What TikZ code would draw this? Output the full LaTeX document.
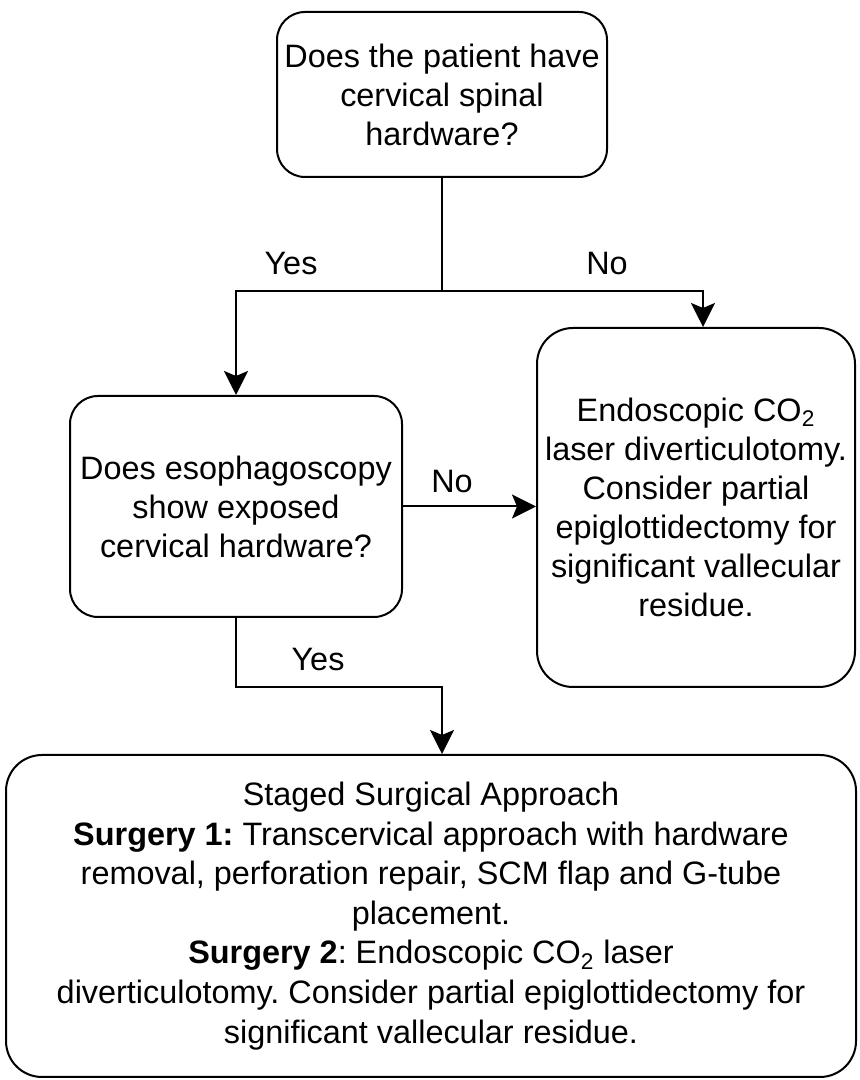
\documentclass[tikz,border=0pt]{standalone}
\usepackage{fontspec}
\setmainfont{Liberation Sans}
\usetikzlibrary{positioning,arrows.meta}
\frenchspacing

\begin{document}
\begin{tikzpicture}[x=0.5pt, y=0.5pt,
    box/.style={draw, line width=1pt, rounded corners=14pt, align=center, inner sep=0pt,
      font=\fontsize{16.2}{19.5}\selectfont},
    lbl/.style={font=\fontsize{16.2}{19.5}\selectfont},
    arr/.style={line width=1pt, -{Stealth[length=12pt, width=12pt, inset=2.5pt]}}]
        \useasboundingbox (0,0) rectangle (859,1080);
        % boxes
        \node[box, minimum width=165pt, minimum height=82.5pt] (hw) at (442,985.5)
          {Does the patient have\\cervical spinal\\hardware?};
        \node[box, minimum width=166pt, minimum height=110.5pt] (scope) at (236,573.5)
          {Does esophagoscopy\\show exposed\\cervical hardware?};
        \node[box, rounded corners=18pt, minimum width=159pt, minimum height=179.5pt] (laser) at (696,572.5)
          {Endoscopic CO\textsubscript{2}\\laser diverticulotomy.\\Consider partial\\epiglottidectomy for\\significant vallecular\\residue.};
        \node[box, rounded corners=18pt, minimum width=425pt, minimum height=161pt,
              font=\fontsize{16.2}{19.8}\selectfont] (staged) at (431,164)
          {Staged Surgical Approach\\
           \textbf{Surgery 1:} Transcervical approach with hardware\\
           removal, perforation repair, SCM flap and G-tube\\
           placement.\\
           \textbf{Surgery 2}: Endoscopic CO\textsubscript{2} laser\\
           diverticulotomy. Consider partial epiglottidectomy for\\
           significant vallecular residue.};
        % connectors
        \coordinate (split) at (442,789);
        \coordinate (bend) at (442,393);
        \draw[line width=1pt] (hw.south) -- (split);
        \draw[arr] (split) -| (scope.north);
        \draw[arr] (split) -| ([xshift=3.5pt]laser.north);
        \draw[arr] (scope.east) -- (scope.east -| laser.west);
        \draw[arr] (scope.south) |- (bend) -- (bend |- staged.north);
        \node[lbl] (yesA) at (291,816) {Yes};
        \node[lbl] (noA) at (607,816) {No};
        \node[lbl] (noB) at (452,598) {No};
        \node[lbl] (yesB) at (318,420) {Yes};
      \end{tikzpicture}
\end{document}
